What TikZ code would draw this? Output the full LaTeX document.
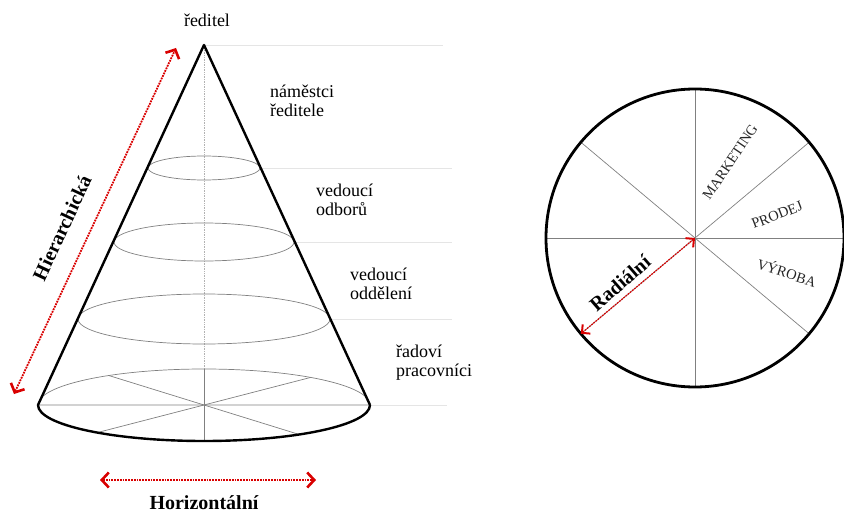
\documentclass[tikz,border=0pt]{standalone}
\usepackage{fontspec}
\setmainfont{Liberation Serif}
\usetikzlibrary{arrows.meta}

\begin{document}
\begin{tikzpicture}[x=1pt,y=-1pt,
    level/.style={font=\fontsize{18}{19}\selectfont,align=left,anchor=west,inner sep=0pt},
    dept/.style={font=\fontsize{14.5}{15}\selectfont,text=black!85,inner sep=0pt},
    axis/.style={font=\fontsize{20}{22}\selectfont\bfseries,inner sep=0pt},
    rim/.style={line width=2.4pt,line join=round},
    ring/.style={black!50,line width=.7pt},
    guide/.style={black!10,line width=.8pt},
    redarr/.style={red!85!black,line width=1.8pt,densely dotted,
      {Straight Barb[length=7pt,width=15pt,line width=2.6pt]}-{Straight Barb[length=7pt,width=15pt,line width=2.6pt]}},
    thinarr/.style={redarr,line width=1.2pt,
      {Straight Barb[length=6pt,width=12pt,line width=2pt]}-{Straight Barb[length=6pt,width=12pt,line width=2pt]}}]
  \useasboundingbox (0,0) rectangle (844,511);
  \coordinate (apex) at (204,45);
  \coordinate (bc) at (204,405);
  \coordinate (bl) at (38,405);
  \coordinate (br) at (370,405);
  \draw[guide] (apex) -- (443,45) (260,168) -- (452,168) (295,242) -- (452,242)
    (330,319) -- (452,319) (br) -- (447,405);
  \draw[ring,black!30,densely dotted] (apex) -- (204,369);
  \foreach \y/\r/\s in {168/56/12,242/90/19,319/126/25}
    \draw[ring] (204,\y) ellipse [x radius=\r,y radius=\s];
  \draw[ring] (bl) -- (br) (br) arc [start angle=0,end angle=-180,x radius=166,y radius=36];
  \foreach \a in {55,90,130}
    \draw[ring] ([shift={(\a:166 and 36)}]bc) -- ([shift={(\a+180:166 and 36)}]bc);
  \draw[rim] (br) -- (apex) -- (bl) arc [start angle=180,end angle=0,x radius=166,y radius=36];
  \node[inner sep=0pt,font=\fontsize{18}{19}\selectfont] (reditel) at (207,20) {ředitel};
  \node[level] (namestci) at (270,101) {náměstci\\ředitele};
  \node[level] (odbory) at (316,200) {vedoucí\\odborů};
  \node[level] (oddeleni) at (350,284) {vedoucí\\oddělení};
  \node[level] (radovi) at (396,363) {řadoví\\pracovníci};
  \coordinate (h1) at (14,394);
  \coordinate (h2) at (176,48);
  \draw[redarr] (h1) -- (h2);
  \node[axis,rotate=65] (hier) at (62,228) {Hierarchická};
  \coordinate (w1) at (100,480);
  \coordinate (w2) at (316,480);
  \draw[redarr] (w1) -- (w2);
  \node[axis] (horiz) at (204,503) {Horizontální};
  \coordinate (ctr) at (695,238);
  \foreach \a in {0,40,90,140}
    \draw[ring] (ctr) ++(\a:149) -- ++(\a+180:298);
  \draw[rim,line width=2.8pt] (ctr) circle [radius=149];
  \path (ctr) ++(140:149) coordinate (rad);
  \draw[thinarr] (rad) -- (ctr);
  \node[axis,rotate=41] (radial) at (620,283) {Radiální};
  \node[dept,rotate=56] (mkt) at (730,162) {MARKETING};
  \node[dept,rotate=21] (prodej) at (777,215) {PRODEJ};
  \node[dept,rotate=-18] (vyroba) at (787,272) {VÝROBA};
\end{tikzpicture}
\end{document}
